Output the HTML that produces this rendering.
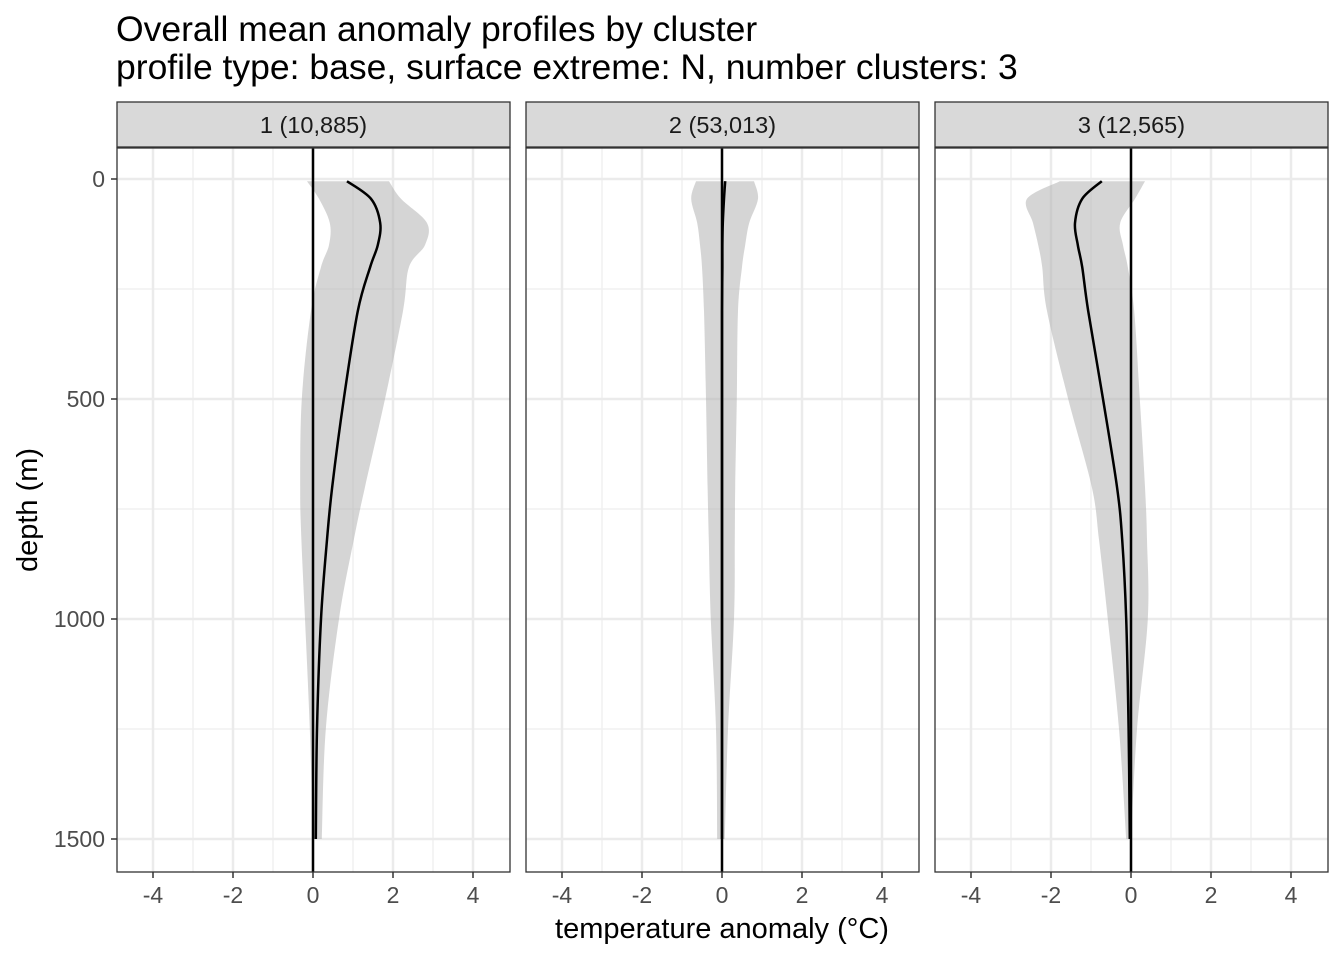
<!DOCTYPE html>
<html><head><meta charset="utf-8">
<style>
body{margin:0;background:#fff;font-family:"Liberation Sans",sans-serif;}
svg text{font-family:"Liberation Sans",sans-serif;}
</style></head>
<body>
<svg id="chart" width="1344" height="960" viewBox="0 0 1344 960">
<text x="116" y="41" font-size="35.5" fill="#000">Overall mean anomaly profiles by cluster</text>
<text x="116" y="79" font-size="35.5" fill="#000">profile type: base, surface extreme: N, number clusters: 3</text>
<text x="722" y="938" font-size="29" text-anchor="middle" fill="#000">temperature anomaly (°C)</text>
<text transform="translate(37,510) rotate(-90)" font-size="29" text-anchor="middle" fill="#000">depth (m)</text>
<g id="panels"></g>
</svg>
<script>
const depths = [5,45,100,150,200,300,500,700,820,1000,1250,1500];
const panelLabels = ["1 (10,885)","2 (53,013)","3 (12,565)"];
const mean1 = [0.85,1.45,1.68,1.62,1.43,1.12,0.77,0.48,0.35,0.2,0.1,0.07];
const upper1 = [1.9,2.2,2.85,2.8,2.4,2.25,1.8,1.3,1.02,0.65,0.32,0.22];
const lower1 = [-0.15,0.15,0.42,0.4,0.2,-0.05,-0.28,-0.32,-0.29,-0.2,-0.08,0.0];
const mean2 = [0.08,0.05,0.02,0.01,0.01,0.0,0.0,0.0,0.0,0.0,0.0,0.0];
const upper2 = [0.8,0.9,0.68,0.58,0.5,0.4,0.37,0.33,0.32,0.3,0.15,0.07];
const lower2 = [-0.65,-0.77,-0.62,-0.55,-0.5,-0.45,-0.4,-0.36,-0.33,-0.28,-0.15,-0.12];
const mean3 = [-0.73,-1.22,-1.4,-1.33,-1.22,-1.07,-0.7,-0.35,-0.22,-0.12,-0.06,-0.03];
const upper3 = [0.35,0.1,-0.27,-0.2,-0.08,0.08,0.22,0.35,0.4,0.42,0.15,0.0];
const lower3 = [-1.78,-2.6,-2.45,-2.32,-2.22,-2.1,-1.57,-0.98,-0.8,-0.58,-0.3,-0.12];
const xTicks = [-4,-2,0,2,4];
const xMinor = [-3,-1,1,3];
const yTicks = [0,500,1000,1500];
const yMinor = [250,750,1250];

const NS="http://www.w3.org/2000/svg";
const root=document.getElementById('panels');
const panelX=[117,526,935], PW=393, PT=148, PB=872;
function yS(d){return 179+0.44*d;}
function mk(tag,attrs,parent){const e=document.createElementNS(NS,tag);for(const k in attrs)e.setAttribute(k,attrs[k]);parent.appendChild(e);return e;}
function smooth(pts){
  let s="M"+pts[0][0]+","+pts[0][1];
  for(let i=0;i<pts.length-1;i++){
    const p0=pts[Math.max(0,i-1)],p1=pts[i],p2=pts[i+1],p3=pts[Math.min(pts.length-1,i+2)];
    const c1=[p1[0]+(p2[0]-p0[0])/6,p1[1]+(p2[1]-p0[1])/6];
    const c2=[p2[0]-(p3[0]-p1[0])/6,p2[1]-(p3[1]-p1[1])/6];
    s+=" C"+c1[0]+","+c1[1]+" "+c2[0]+","+c2[1]+" "+p2[0]+","+p2[1];
  }
  return s;
}
const means=[mean1,mean2,mean3],ups=[upper1,upper2,upper3],lows=[lower1,lower2,lower3];
panelX.forEach((px,i)=>{
  const xS=v=>px+196+40*v;
  const g=mk('g',{},root);
  
  
  const strip=mk('rect',{x:px,y:102,width:PW,height:45,fill:'#d9d9d9',stroke:'#333','stroke-width':1.3},g);
  
  
  const st=mk('text',{x:px+PW/2,y:133,'font-size':23.5,'text-anchor':'middle',fill:'#1a1a1a'},g);
  st.textContent=panelLabels[i];
  
  
  mk('rect',{x:px,y:PT,width:PW,height:PB-PT,fill:'#fff'},g);
  xMinor.forEach(v=>{const l=mk('line',{x1:xS(v),x2:xS(v),y1:PT,y2:PB,stroke:'#f0f0f0','stroke-width':1.5},g);});
  yMinor.forEach(v=>{const l=mk('line',{x1:px,x2:px+PW,y1:yS(v),y2:yS(v),stroke:'#f0f0f0','stroke-width':1.5},g);});
  xTicks.forEach(v=>{const l=mk('line',{x1:xS(v),x2:xS(v),y1:PT,y2:PB,stroke:'#ebebeb','stroke-width':2.5},g);});
  yTicks.forEach(v=>{const l=mk('line',{x1:px,x2:px+PW,y1:yS(v),y2:yS(v),stroke:'#ebebeb','stroke-width':2.5},g);});
  const up=depths.map((d,j)=>[xS(ups[i][j]),yS(d)]);
  const lo=depths.map((d,j)=>[xS(lows[i][j]),yS(d)]).reverse();
  let rp=smooth(up);
  rp+=" L"+lo[0][0]+","+lo[0][1]+smooth(lo).replace(/^M[^ C]*/,"")+" Z";
  const rib=mk('path',{d:rp,fill:'#b3b3b3','fill-opacity':0.55},g);
  
  
  const zl=mk('line',{x1:xS(0),x2:xS(0),y1:PT,y2:PB,stroke:'#000','stroke-width':2.5},g);
  
  
  const ml=mk('path',{d:smooth(depths.map((d,j)=>[xS(means[i][j]),yS(d)])),fill:'none',stroke:'#000','stroke-width':2.5},g);
  
  
  mk('rect',{x:px,y:PT,width:PW,height:PB-PT,fill:'none',stroke:'#333','stroke-width':1.3},g);
  xTicks.forEach(v=>{
    mk('line',{x1:xS(v),x2:xS(v),y1:PB,y2:PB+6,stroke:'#333','stroke-width':1.5},g);
    const t=mk('text',{x:xS(v),y:PB+31,'font-size':23,'text-anchor':'middle',fill:'#4d4d4d'},g);
    t.textContent=v;
    
    
  });
  if(i===0){
    yTicks.forEach(v=>{
      mk('line',{x1:px-6,x2:px,y1:yS(v),y2:yS(v),stroke:'#333','stroke-width':1.5},g);
      const t=mk('text',{x:px-12,y:yS(v)+8,'font-size':23,'text-anchor':'end',fill:'#4d4d4d'},g);
      t.textContent=v;
      
      
    });
  }
});
</script>
</body></html>
